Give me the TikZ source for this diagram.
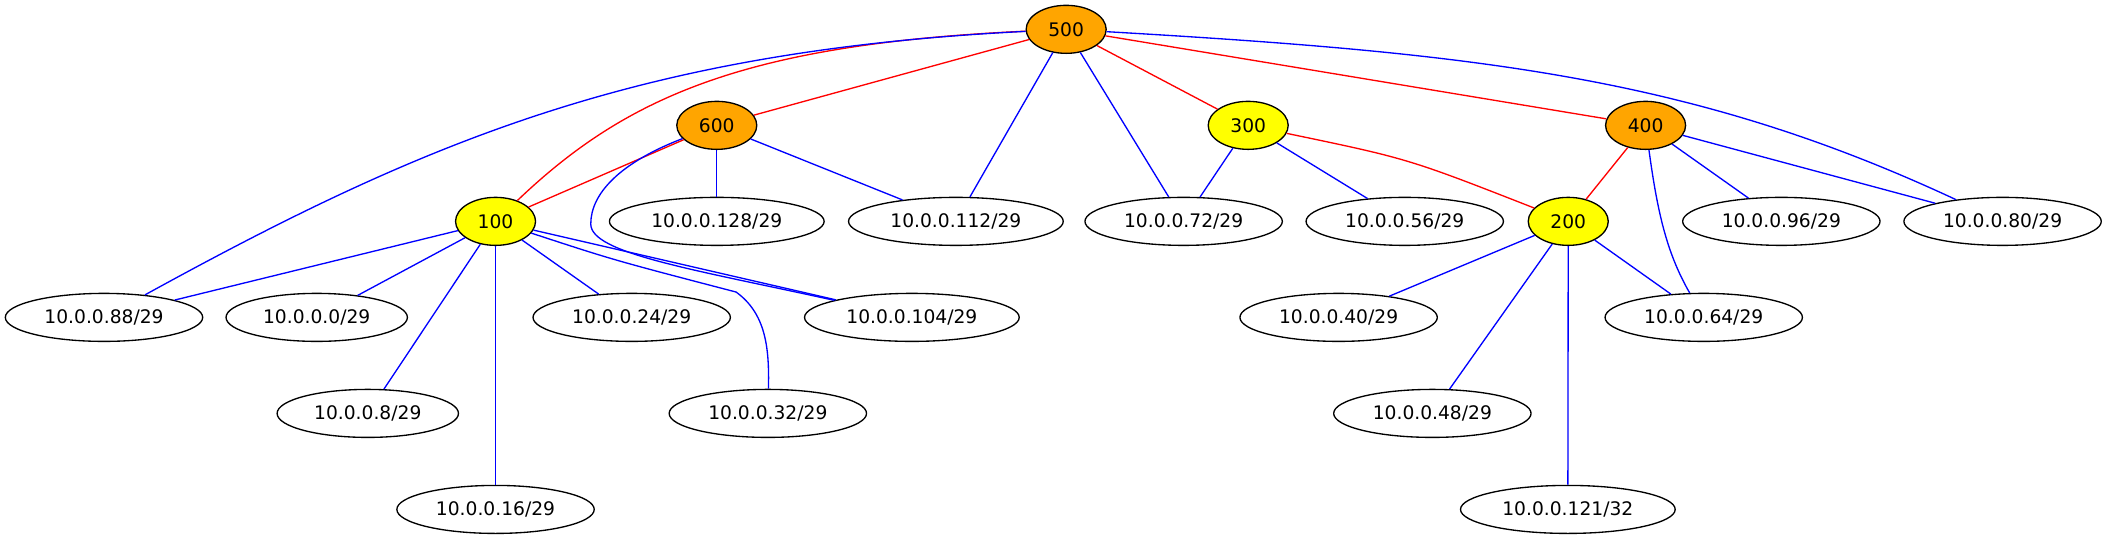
\documentclass[tikz,border=0pt]{standalone}
\usepackage{fontspec}
\setmainfont{DejaVu Sans}
\usetikzlibrary{shapes.geometric}
\definecolor{gvorange}{RGB}{255,165,0}
\definecolor{gvyellow}{RGB}{255,255,0}
\definecolor{gvred}{RGB}{255,0,0}
\definecolor{gvblue}{RGB}{0,0,255}
\begin{document}
\begin{tikzpicture}[x=1pt,y=-1pt,
  gv/.style={ellipse,draw=black,line width=1pt,inner sep=0pt,minimum height=36pt,
    font=\fontsize{14}{16}\selectfont},
  sw/.style={gv,minimum width=60pt},
  w11/.style={gv,minimum width=136pt},
  w12/.style={gv,minimum width=148pt},
  w13/.style={gv,minimum width=161pt},
  orn/.style={fill=gvorange},
  yel/.style={fill=gvyellow},
  rl/.style={draw=gvred,line width=1pt},
  bl/.style={draw=gvblue,line width=1pt}]
\useasboundingbox (0,0) rectangle (1580,404);
% rank 0
\node[sw,orn] (n500) at (799.5,22) {500};
% rank 1
\node[sw,orn] (n600) at (537.5,94) {600};
\node[sw,yel] (n300) at (936,94) {300};
\node[sw,orn] (n400) at (1234,94) {400};
% rank 2
\node[sw,yel] (n100) at (371.6,166) {100};
\node[w13] (p128) at (537.5,166) {10.0.0.128/29};
\node[w13] (p112) at (716.8,166) {10.0.0.112/29};
\node[w12] (p72) at (887.6,166) {10.0.0.72/29};
\node[w12] (p56) at (1053.4,166) {10.0.0.56/29};
\node[sw,yel] (n200) at (1176,166) {200};
\node[w12] (p96) at (1335.8,166) {10.0.0.96/29};
\node[w12] (p80) at (1501.7,166) {10.0.0.80/29};
% rank 3
\node[w12] (p88) at (78,238) {10.0.0.88/29};
\node[w11] (p0) at (237.5,238) {10.0.0.0/29};
\node[w12] (p24) at (473.7,238) {10.0.0.24/29};
\node[w13] (p104) at (683.8,238) {10.0.0.104/29};
\node[w12] (p40) at (1003.8,238) {10.0.0.40/29};
\node[w12] (p64) at (1277.6,238) {10.0.0.64/29};
% rank 4
\node[w11] (p8) at (275.8,310) {10.0.0.8/29};
\node[w12] (p32) at (575.8,310) {10.0.0.32/29};
\node[w12] (p48) at (1074.1,310) {10.0.0.48/29};
% rank 5
\node[w12] (p16) at (371.6,382) {10.0.0.16/29};
\node[w13] (p121) at (1175.7,382) {10.0.0.121/32};
% red edges
\draw[rl] (n500) .. controls (560,33) and (470,72) .. (n100);
\draw[rl] (n500) -- (n600);
\draw[rl] (n500) -- (n300);
\draw[rl] (n500) -- (n400);
\draw[rl] (n600) -- (n100);
\draw[rl] (n300) .. controls (1056,119) .. (n200);
\draw[rl] (n400) -- (n200);
% blue edges from 500
\draw[bl] (n500) .. controls (480,38) and (320,105) .. (p88);
\draw[bl] (n500) -- (p112);
\draw[bl] (n500) -- (p72);
\draw[bl] (n500) .. controls (1110,40) and (1270,58) .. (p80);
% blue edges from 600
\draw[bl] (n600) -- (p128);
\draw[bl] (n600) -- (p112);
\draw[bl] (n600) .. controls (465,122) and (443,145) .. (443,168)
  .. controls (443,190) and (520,202) .. (p104);
% blue edges from 100
\draw[bl] (n100) -- (p88);
\draw[bl] (n100) -- (p0);
\draw[bl] (n100) -- (p8);
\draw[bl] (n100) -- (p16);
\draw[bl] (n100) -- (p24);
\draw[bl] (n100) -- (p104);
\draw[bl] (n100) .. controls (460,195) .. (552,219)
  .. controls (574,235) and (577,260) .. (p32);
% blue edges from 300
\draw[bl] (n300) -- (p72);
\draw[bl] (n300) -- (p56);
% blue edges from 400
\draw[bl] (n400) -- (p96);
\draw[bl] (n400) -- (p80);
\draw[bl] (n400) .. controls (1243,160) and (1250,190) .. (p64);
% blue edges from 200
\draw[bl] (n200) -- (p40);
\draw[bl] (n200) -- (p48);
\draw[bl] (n200) -- (p121);
\draw[bl] (n200) -- (p64);
\end{tikzpicture}
\end{document}
